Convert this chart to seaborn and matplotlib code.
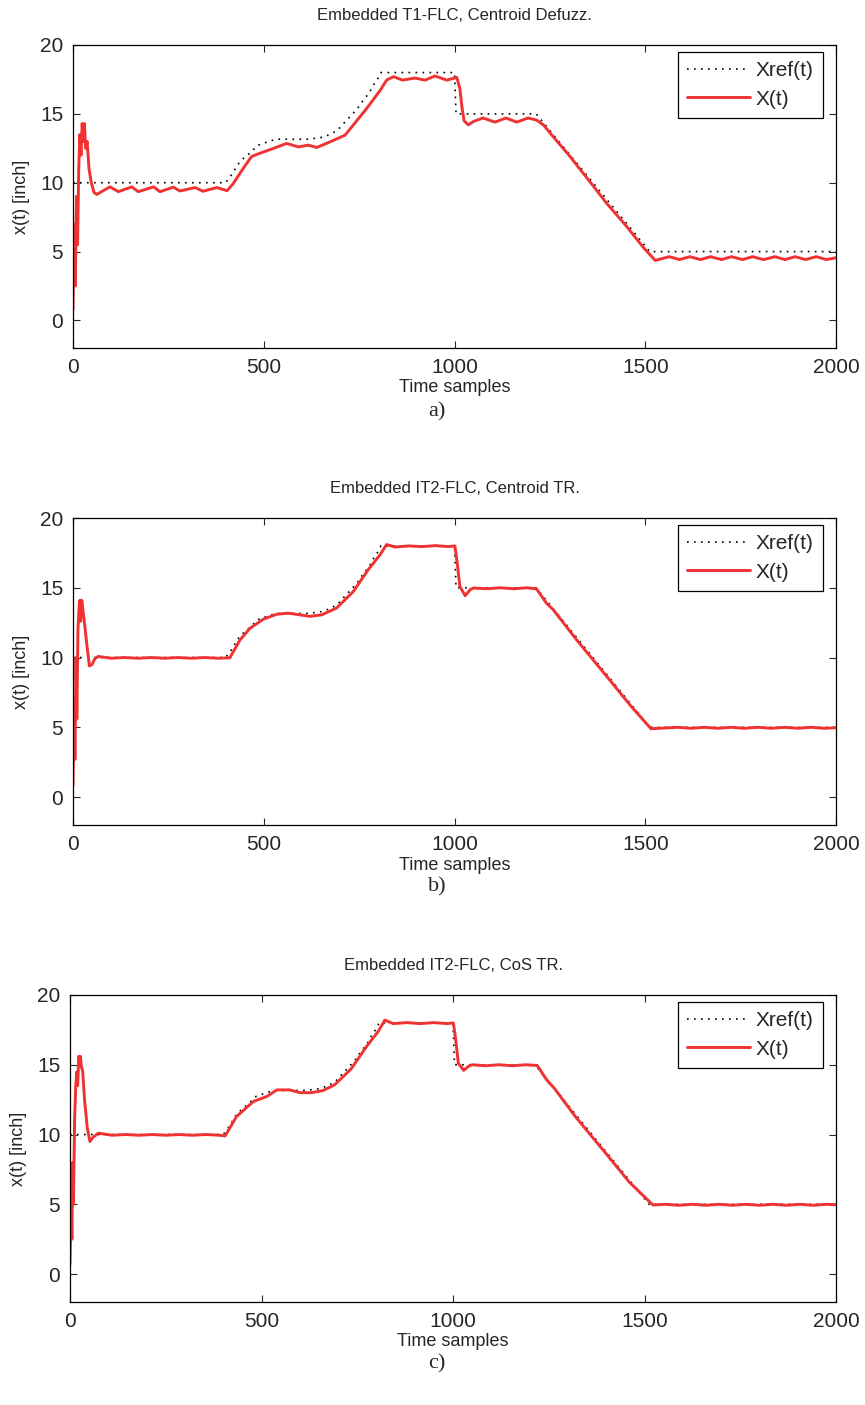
import matplotlib
matplotlib.use("Agg")
import matplotlib.pyplot as plt
import seaborn as sns
import pandas as pd

sns.set_style("ticks")
plt.rcParams["font.family"] = ["Liberation Sans", "DejaVu Sans"]

# reference trajectory (same for all three runs)
ref_t = [0, 400, 419, 431, 448, 466, 483, 503, 521, 538, 617, 654, 673, 693, 711, 730,
         746, 761, 776, 787, 800, 807, 1000, 1004, 1214, 1512, 2000]
ref_x = [10, 10, 10.7, 11.3, 11.8, 12.2, 12.7, 12.9, 13.07, 13.16, 13.16, 13.3, 13.5, 13.8, 14.35, 14.9,
         15.4, 16.0, 16.5, 17.07, 17.6, 18.0, 18.0, 15.0, 15.0, 5.0, 5.0]

# a) T1-FLC, centroid defuzz.
t1_t = [0, 3, 6, 9, 12, 15, 18, 21, 24, 27, 30, 33, 37, 42, 48, 55, 62,
        97, 119, 154, 171, 211, 228, 263, 280, 320, 341, 377, 404,
        420, 446, 468, 481, 516, 560, 591, 617, 639, 674, 713, 735, 770, 805, 822,
        840, 864, 896, 923, 949, 980, 1006, 1014, 1019, 1025, 1036,
        1050, 1075, 1106, 1135, 1163, 1193, 1215, 1233, 1260, 1300, 1357, 1399, 1449, 1495, 1526,
        1563, 1590, 1617, 1645, 1671, 1700, 1726, 1755, 1781, 1810, 1840, 1866, 1893, 1920, 1948, 1975, 2000]
t1_x = [0.8, 7.0, 2.5, 9.0, 5.5, 11.0, 13.5, 12.0, 14.3, 13.0, 14.3, 12.5, 13.0, 11.0, 10.0, 9.3, 9.15,
        9.7, 9.35, 9.7, 9.35, 9.7, 9.35, 9.68, 9.4, 9.65, 9.38, 9.65, 9.42,
        9.94, 11.03, 11.9, 12.05, 12.4, 12.85, 12.6, 12.73, 12.56, 12.97, 13.45, 14.2, 15.4, 16.7, 17.45,
        17.7, 17.45, 17.6, 17.45, 17.75, 17.45, 17.65, 16.85, 15.6, 14.5, 14.2,
        14.45, 14.7, 14.4, 14.7, 14.4, 14.7, 14.55, 14.2, 13.3, 12.0, 10.0, 8.5, 6.9, 5.3, 4.36,
        4.63, 4.42, 4.63, 4.42, 4.63, 4.42, 4.63, 4.42, 4.63, 4.42, 4.63, 4.42, 4.63, 4.42, 4.63, 4.42, 4.55]

# b) IT2-FLC, centroid TR
it2_t = [0, 3, 5, 8, 10, 13, 16, 18, 20, 23, 26, 30, 36, 43, 50, 57, 66,
         100, 135, 170, 205, 240, 275, 310, 345, 380, 411,
         438, 464, 499, 534, 564, 595, 621, 652, 691, 713, 735, 774, 805, 822, 844,
         880, 915, 950, 985, 1001, 1007, 1014, 1028, 1041, 1049,
         1085, 1120, 1155, 1190, 1215, 1241, 1259, 1320, 1403, 1460, 1515,
         1550, 1585, 1620, 1655, 1690, 1725, 1760, 1795, 1830, 1865, 1900, 1935, 1970, 2000]
it2_x = [0.8, 7.0, 2.7, 10.0, 5.6, 12.0, 13.6, 14.1, 12.6, 14.1, 13.4, 12.5, 11.0, 9.4, 9.5, 9.9, 10.08,
         9.95, 10.0, 9.95, 10.0, 9.95, 10.0, 9.95, 10.0, 9.95, 9.98,
         11.27, 12.1, 12.75, 13.1, 13.18, 13.06, 12.95, 13.06, 13.55, 14.14, 14.74, 16.3, 17.37, 18.1, 17.92,
         18.0, 17.95, 18.02, 17.95, 18.0, 16.8, 15.1, 14.43, 14.86, 14.98,
         14.93, 15.0, 14.93, 15.0, 14.92, 13.9, 13.42, 11.27, 8.52, 6.6, 4.9,
         4.95, 5.0, 4.93, 5.0, 4.93, 5.0, 4.93, 5.0, 4.93, 5.0, 4.93, 5.0, 4.93, 4.97]

# c) IT2-FLC, CoS TR
cos_t = [0, 3, 5, 7, 9, 12, 15, 18, 20, 23, 25, 27, 30, 33, 38, 45, 52, 60, 74,
         110, 145, 180, 215, 250, 285, 320, 355, 390, 405,
         435, 479, 514, 540, 574, 600, 630, 660, 690, 713, 735, 774, 805, 822, 844,
         880, 915, 950, 985, 1001, 1007, 1014, 1028, 1041, 1050,
         1085, 1120, 1155, 1190, 1220, 1245, 1265, 1320, 1403, 1460, 1522,
         1555, 1590, 1625, 1660, 1695, 1730, 1765, 1800, 1835, 1870, 1905, 1940, 1975, 2000]
cos_x = [0.7, 5.0, 2.5, 8.0, 5.0, 11.0, 13.5, 14.5, 13.5, 15.6, 15.2, 15.6, 14.8, 14.6, 12.5, 10.5, 9.5, 9.8, 10.1,
         9.95, 10.0, 9.95, 10.0, 9.95, 10.0, 9.95, 10.0, 9.95, 9.9,
         11.3, 12.37, 12.73, 13.2, 13.2, 13.0, 13.0, 13.15, 13.55, 14.14, 14.74, 16.3, 17.4, 18.2, 17.95,
         18.02, 17.95, 18.02, 17.95, 18.0, 16.8, 15.1, 14.6, 14.9, 15.0,
         14.93, 15.0, 14.93, 15.0, 14.95, 13.9, 13.3, 11.27, 8.52, 6.6, 4.95,
         5.0, 4.93, 5.0, 4.93, 5.0, 4.93, 5.0, 4.93, 5.0, 4.93, 5.0, 4.93, 5.0, 4.97]

titles = ["Embedded T1-FLC, Centroid Defuzz.", "Embedded IT2-FLC, Centroid TR.", "Embedded IT2-FLC, CoS TR."]
captions = ["a)", "b)", "c)"]
series = [(t1_t, t1_x), (it2_t, it2_x), (cos_t, cos_x)]

W, H = 865, 1405
# left, top, right, bottom in pixels
boxes = [(73, 45, 836, 348), (73, 518, 836, 825), (70, 995, 836, 1302)]
cap_y = [412, 887, 1364]

fig = plt.figure(figsize=(W / 100, H / 100), dpi=100)
red = "#f03232"

for i in range(3):
    l, t, r, b = boxes[i]
    ax = fig.add_axes([l / W, 1 - b / H, (r - l) / W, (b - t) / H])
    ref = pd.DataFrame({"t": ref_t, "x": ref_x})
    out = pd.DataFrame({"t": series[i][0], "x": series[i][1]})
    sns.lineplot(data=ref, x="t", y="x", ax=ax, color="black", lw=1.2,
                 linestyle=(0, (1, 3.2)), label="Xref(t)")
    sns.lineplot(data=out, x="t", y="x", ax=ax, color=red, lw=2.1, label="X(t)")

    ax.set_xlim(0, 2000)
    ax.set_ylim(-2, 20)
    ax.set_xticks([0, 500, 1000, 1500, 2000])
    ax.set_yticks([0, 5, 10, 15, 20])
    ax.tick_params(direction="in", top=True, right=True, length=5, width=0.8,
                   labelsize=15, pad=7)
    for s in ax.spines.values():
        s.set_linewidth(0.9)
        s.set_color("black")
    ax.set_xlabel("Time samples", fontsize=13, labelpad=2)
    ax.set_ylabel("x(t) [inch]", fontsize=13, labelpad=7)
    ax.set_title(titles[i], fontsize=12, pad=18)

    leg = ax.legend(loc="upper right", bbox_to_anchor=((823 - l) / (r - l), 1 - 7 / (b - t)),
                    borderaxespad=0, fontsize=15, handlelength=3.0, handletextpad=0.3,
                    fancybox=False, framealpha=1, edgecolor="black", borderpad=0.45,
                    labelspacing=0.45)
    leg.get_frame().set_linewidth(0.9)

    fig.text(437 / W, 1 - cap_y[i] / H, captions[i], ha="center", va="center",
             fontsize=16, family=["Liberation Serif", "DejaVu Serif"])

fig.savefig("out.png", dpi=100)
